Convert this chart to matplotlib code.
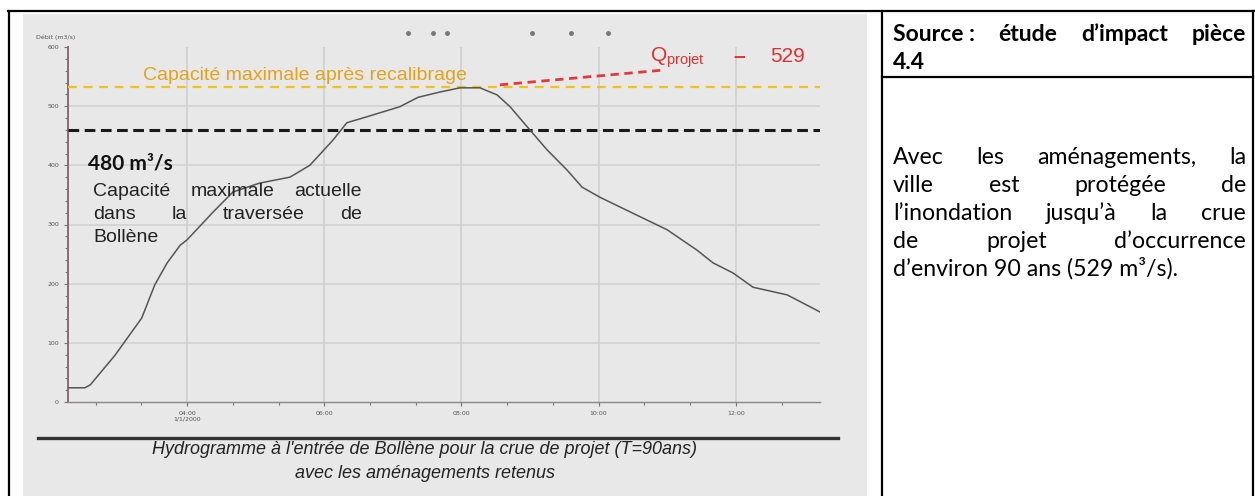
import matplotlib
matplotlib.use("Agg")
import matplotlib.pyplot as plt
from matplotlib.lines import Line2D
from matplotlib.patches import Rectangle

W, H = 1255, 496

# hydrograph (hours, m3/s)
t_hours = [2.25, 2.51, 2.59, 2.95, 3.34, 3.53, 3.71, 3.90, 4.00, 4.38, 4.67,
           5.06, 5.50, 5.79, 6.13, 6.33, 6.62, 7.10, 7.37, 7.69, 7.98, 8.27,
           8.52, 8.71, 8.96, 9.25, 9.54, 9.76, 10.02, 10.50, 11.00, 11.43,
           11.67, 11.96, 12.25, 12.75, 13.23]
debit = [24, 24, 29, 79, 142, 198, 235, 265, 274, 321, 355, 370, 380, 400,
         443, 472, 482, 499, 515, 524, 531, 531, 519, 499, 465, 426, 392, 363,
         346, 319, 291, 257, 235, 218, 194, 181, 152]

cap_apres = 532      # capacité après recalibrage (as drawn)
cap_actuelle = 460   # 480 m3/s line (as drawn)
q_projet_t = [8.56, 10.94]
q_projet_q = [536, 561]

xticks = [4, 6, 8, 10, 12]
xlabels = ["04:00\n1/1/2000", "06:00", "08:00", "10:00", "12:00"]
yticks = [0, 100, 200, 300, 400, 500, 600]

body_lines = [
    ["Avec", "les", "aménagements,", "la"],
    ["ville", "est", "protégée", "de"],
    ["l’inondation", "jusqu’à", "la", "crue"],
    ["de", "projet", "d’occurrence"],
]
last_line = "d’environ 90 ans (529 m³/s)."


def fx(x):
    return x / W


def fy(y):
    return 1 - y / H


fig = plt.figure(figsize=(W / 100, H / 100), dpi=100)
fig.patch.set_facecolor("white")

# scanned picture background
fig.patches.append(Rectangle((fx(23), fy(496)), fx(867) - fx(23), fy(14) - fy(496),
                             transform=fig.transFigure, facecolor="#e8e8e8",
                             edgecolor="none", zorder=-5))

# table borders
for (x0, y0, x1, y1) in [(9, 11, 9, 496), (8, 11, 1254, 11), (1253, 11, 1253, 496),
                         (882, 11, 882, 496), (882, 77, 1253, 77)]:
    fig.lines.append(Line2D([fx(x0), fx(x1)], [fy(y0), fy(y1)], transform=fig.transFigure,
                            color="black", lw=1.6, zorder=5))

# leftover legend dots at the top of the scan
for x in [408, 433, 447, 532, 571, 608]:
    fig.lines.append(Line2D([fx(x)], [fy(33)], transform=fig.transFigure, marker="o",
                            ms=2.5, color="#777777", lw=0))

# chart
ax = fig.add_axes([fx(68), fy(402), (820 - 68) / W, (402 - 47) / H])
ax.set_facecolor("none")
ax.set_xlim(2.265, 13.227)
ax.set_ylim(0, 600)
for s in ["top", "right"]:
    ax.spines[s].set_visible(False)
ax.spines["left"].set_color("#8a6a72")
ax.spines["left"].set_linewidth(1.4)
ax.spines["bottom"].set_color("#888888")
ax.spines["bottom"].set_linewidth(1.0)

ax.set_xticks(xticks)
ax.set_xticklabels(xlabels, fontsize=4.5, color="#555555")
ax.set_xticks([t for t in [2.667 + i * 0.6667 for i in range(17)] if t < 13.2], minor=True)
ax.set_yticks(yticks)
ax.set_yticklabels([str(v) for v in yticks], fontsize=4.5, color="#555555")
ax.set_yticks(range(0, 601, 20), minor=True)
ax.tick_params(which="both", length=3, color="#777777", width=0.8)
ax.tick_params(which="minor", length=2)

for v in yticks[1:-1]:
    ax.axhline(v, color="#d2d2d2", lw=1.2, zorder=1)
for v in xticks:
    ax.axvline(v, color="#cfcfcf", lw=1.2, zorder=1)

ax.axhline(cap_apres, color="#f2c21b", lw=1.6, ls=(0, (4, 3)), zorder=3)
ax.axhline(cap_actuelle, color="#1a1a1a", lw=2.2, ls=(0, (3.5, 1.8)), zorder=3)
ax.plot(q_projet_t, q_projet_q, color="#e23a3a", lw=2.0, ls=(0, (3, 2)), zorder=4)
ax.plot(t_hours, debit, color="#555555", lw=1.1, zorder=4)

fig.text(fx(36), fy(37), "Débit (m3/s)", fontsize=4.5, color="#555555", va="center")

# annotations in the chart
fig.text(fx(143), fy(80), "Capacité maximale après recalibrage", fontsize=14,
         color="#e3a31c", family="Liberation Sans", va="baseline")
fig.text(fx(650), fy(62), r"$\mathregular{Q_{projet}}$", fontsize=15, color="#e03030",
         family="Liberation Sans", va="baseline")
fig.text(fx(733), fy(62), "–", fontsize=15, color="#e03030", family="Liberation Sans",
         va="baseline", fontweight="bold")
fig.text(fx(770), fy(62), "529", fontsize=15, color="#e03030", family="Liberation Sans",
         va="baseline")

fig.text(fx(88), fy(170), "480 m³/s", fontsize=15, fontweight="bold", color="#111111",
         family="Lato", va="baseline")

renderer = fig.canvas.get_renderer()


def justify(words, x0, x1, y, **kw):
    objs = [fig.text(0, fy(y), w, va="baseline", **kw) for w in words]
    widths = [o.get_window_extent(renderer).width for o in objs]
    gap = (x1 - x0 - sum(widths)) / (len(words) - 1)
    x = x0
    for o, w in zip(objs, widths):
        o.set_x(fx(x))
        x += w + gap


lbl = dict(fontsize=14, color="#222222", family="Liberation Sans")
justify(["Capacité", "maximale", "actuelle"], 93, 362, 196, **lbl)
justify(["dans", "la", "traversée", "de"], 93, 362, 219, **lbl)
fig.text(fx(93), fy(242), "Bollène", va="baseline", **lbl)

# caption under the chart
fig.lines.append(Line2D([fx(38), fx(838)], [fy(438), fy(438)], transform=fig.transFigure,
                        color="#333333", lw=2.4))
cap = dict(fontsize=13, style="italic", color="#222222", family="Liberation Sans",
           ha="center", va="center")
fig.text(fx(425), fy(450), "Hydrogramme à l'entrée de Bollène pour la crue de projet (T=90ans)", **cap)
fig.text(fx(425), fy(473), "avec les aménagements retenus", **cap)

# right-hand cell
src = dict(fontsize=16.5, fontweight="bold", color="black", family="Lato")
justify(["Source :", "étude", "d’impact", "pièce"], 893, 1246, 41, **src)
fig.text(fx(893), fy(69), "4.4", va="baseline", **src)

txt = dict(fontsize=16.7, color="black", family="Lato")
for i, words in enumerate(body_lines):
    justify(words, 893, 1246, 164 + 28 * i, **txt)
fig.text(fx(893), fy(164 + 28 * 4), last_line, va="baseline", **txt)

fig.savefig("out.png", dpi=100)
